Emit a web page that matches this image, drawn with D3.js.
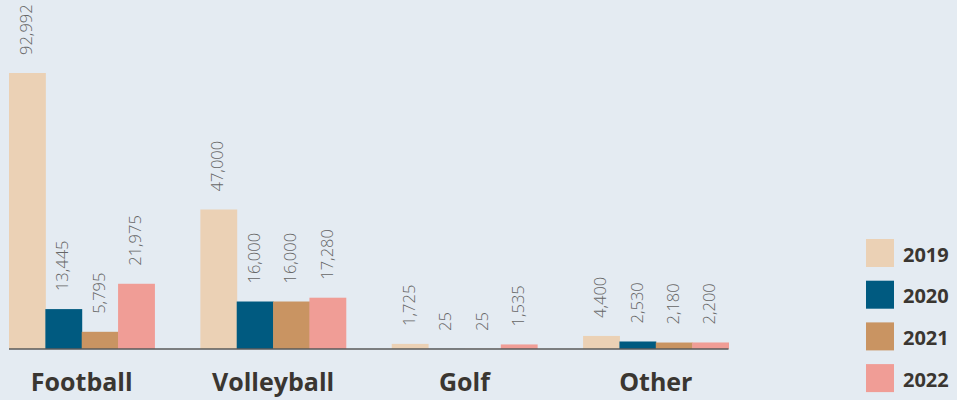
<!DOCTYPE html>
<html>
<head>
<meta charset="utf-8">
<script src="https://cdn.jsdelivr.net/npm/d3@7"></script>
<style>
  html, body { margin: 0; padding: 0; background: #e4ebf2; }
  svg { display: block; }
</style>
</head>
<body>
<svg id="chart" width="957" height="400"></svg>
<script>
// Participants by sport and year
const categories = ["Football", "Volleyball", "Golf", "Other"];
const years = ["2019", "2020", "2021", "2022"];
const values2019 = [92992, 47000, 1725, 4400];
const values2020 = [13445, 16000, 25, 2530];
const values2021 = [5795, 16000, 25, 2180];
const values2022 = [21975, 17280, 1535, 2200];
const colors = ["#ebd1b5", "#005a80", "#c99462", "#f09d96"];

const series = [values2019, values2020, values2021, values2022];
const rows = categories.map((c, i) => ({
  category: c,
  values: years.map((y, j) => ({ year: y, value: series[j][i], color: colors[j] }))
}));

const svg = d3.select("#chart");
const W = 957, H = 400;
svg.append("rect").attr("width", W).attr("height", H).attr("fill", "#e4ebf2");

const baseY = 349;
const maxVal = d3.max(series.flat());

const x0 = d3.scaleBand()
  .domain(categories)
  .range([9, 728.5])
  .paddingInner(0.24)
  .paddingOuter(0);

const x1 = d3.scaleBand()
  .domain(years)
  .range([0, x0.bandwidth()])
  .padding(0);

const y = d3.scaleLinear()
  .domain([0, maxVal])
  .range([baseY, 73]);

const fmt = d3.format(",");

const groups = svg.append("g").selectAll("g")
  .data(rows)
  .join("g")
  .attr("transform", d => `translate(${x0(d.category)},0)`);

groups.selectAll("rect")
  .data(d => d.values)
  .join("rect")
  .attr("x", d => x1(d.year))
  .attr("y", d => y(d.value))
  .attr("width", x1.bandwidth() + 0.5)
  .attr("height", d => baseY - y(d.value))
  .attr("fill", d => d.color);

groups.selectAll("text")
  .data(d => d.values)
  .join("text")
  .attr("transform", d => `translate(${x1(d.year) + x1.bandwidth() / 2 - 1},${y(d.value) - 18}) rotate(-90)`)
  .attr("dy", "0.36em")
  .attr("text-anchor", "start")
  .attr("font-family", "'Open Sans', sans-serif")
  .attr("font-size", 16.5)
  .attr("font-weight", 300)
  .attr("fill", "#666666")
  .text(d => fmt(d.value));

// Baseline
svg.append("line")
  .attr("x1", x0.range()[0])
  .attr("x2", x0.range()[1])
  .attr("y1", baseY)
  .attr("y2", baseY)
  .attr("stroke", "#5a5a5a")
  .attr("stroke-width", 1.6);

// Category labels
const xAxis = d3.axisBottom(x0).tickSize(0).tickPadding(0);
const axisG = svg.append("g")
  .attr("transform", `translate(0,${baseY})`)
  .call(xAxis);
axisG.select(".domain").remove();
axisG.selectAll("text")
  .attr("y", 42)
  .attr("dy", 0)
  .attr("font-family", "'Open Sans', sans-serif")
  .attr("font-size", 25)
  .attr("font-weight", 700)
  .attr("fill", "#3a3631");

// Legend
const legend = svg.append("g").attr("transform", "translate(866,239)");
const lg = legend.selectAll("g")
  .data(years)
  .join("g")
  .attr("transform", (d, i) => `translate(0,${i * 41.7})`);
lg.append("rect")
  .attr("width", 28)
  .attr("height", 28)
  .attr("fill", (d, i) => colors[i]);
lg.append("text")
  .attr("x", 37)
  .attr("y", 22.5)
  .attr("font-family", "'Open Sans', sans-serif")
  .attr("font-size", 20)
  .attr("font-weight", 700)
  .attr("fill", "#3a3631")
  .text(d => d);
</script>
</body>
</html>
